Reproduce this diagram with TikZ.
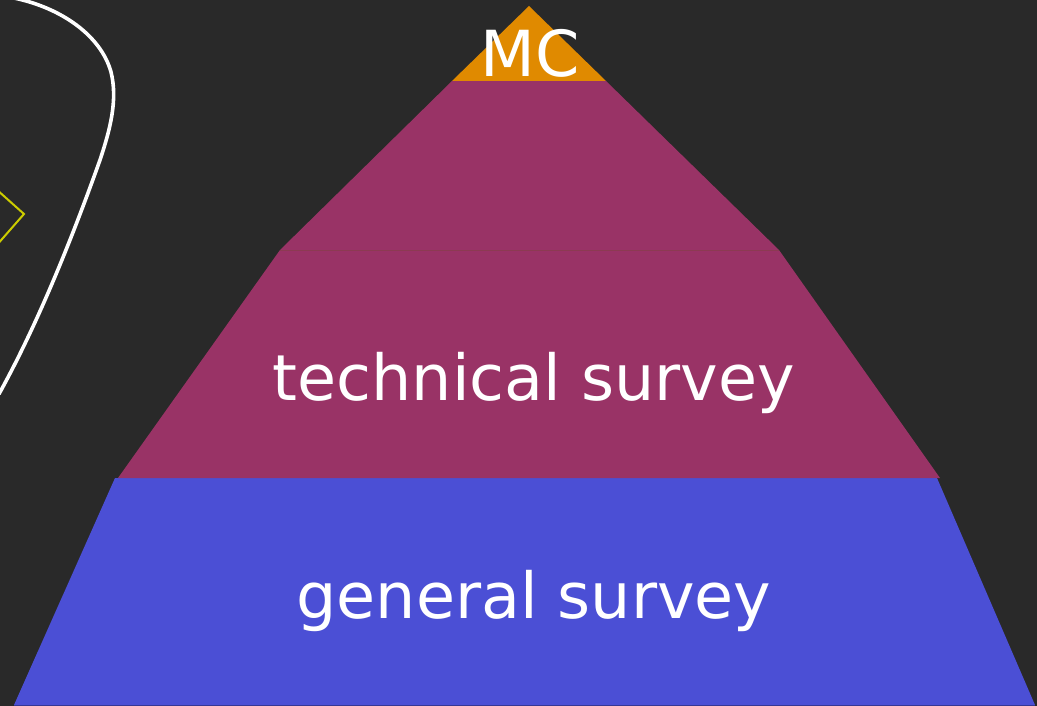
\documentclass[tikz,border=0pt]{standalone}
\usepackage{fontspec}
\setmainfont{DejaVu Sans}
\definecolor{bg}{HTML}{292929}
\definecolor{mcorange}{HTML}{E08A00}
\definecolor{techmag}{HTML}{993366}
\definecolor{genblue}{HTML}{4B4FD5}
\definecolor{diayellow}{HTML}{CCCC00}
\definecolor{seam}{HTML}{8C3A52}
\tikzset{
  layer/.style={draw=none},
  label/.style={text=white, inner sep=0pt, anchor=base, font=\fontsize{63.5}{63.5}\selectfont}
}
\begin{document}
\begin{tikzpicture}[x=1pt,y=-1pt]
\fill[bg] (0,0) rectangle (1037,706);
\useasboundingbox (0,0) rectangle (1037,706);
% outline curve
\draw[white, line width=3.6pt, line cap=round]
  (14,-2) .. controls (62,8) and (101,36) .. (111,72)
  .. controls (118,100) and (110,130) .. (100,160)
  .. controls (75,230) and (40,320) .. (-1,394);
% yellow diamond edge
\draw[diayellow, line width=2pt] (-4,189) -- (24,214) -- (-4,246);
% pyramid layers
\fill[layer, genblue] (115,478) -- (937,478) -- (1035,705) -- (14,705) -- cycle;
\draw[genblue!70!black, line width=0.8pt] (14,705) -- (1035,705);
\fill[layer, techmag] (280,250) -- (779,250) -- (940,478) -- (118,478) -- cycle;
\fill[layer, techmag] (452,81) -- (606,81) -- (779,250) -- (280,250) -- cycle;
\draw[seam, line width=0.8pt] (280,250) -- (779,250);
\fill[layer, mcorange] (529,6) -- (606,81) -- (452,81) -- cycle;
% labels
\node[label] (mc) at (530,77) {MC};
\node[label] (tech) at (534,400) {technical survey};
\node[label] (gen) at (534,618) {general survey};
\end{tikzpicture}
\end{document}
